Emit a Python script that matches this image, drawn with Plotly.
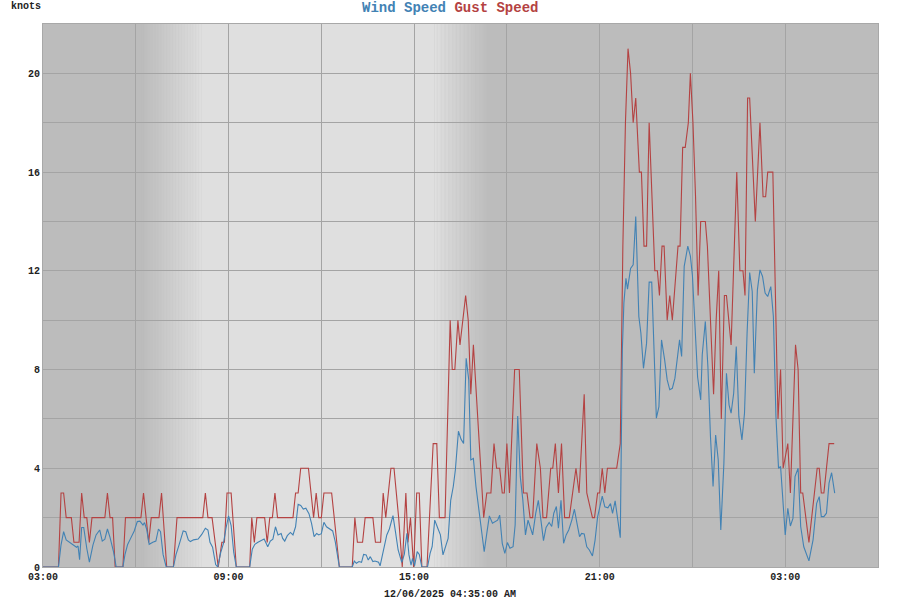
import datetime as dt
import plotly.graph_objects as go

# ---- data (minutes after 2025-12-05 03:00, knots) ----
gust_min = [0, 30, 35, 40, 45, 55, 60, 70, 75, 80, 85, 90, 95, 120, 125, 130, 135, 140, 155, 160,
            190, 195, 200, 205, 210, 225, 230, 240, 253, 260, 310, 315, 320, 328, 340, 347, 352, 357,
            365, 375, 401, 405, 410, 415, 430, 435, 440, 445, 450, 455, 485, 490, 495, 500, 515, 520,
            525, 530, 535, 540, 545, 560, 575, 600, 605, 610, 620, 625, 640, 645, 655, 660, 665, 670,
            675, 681, 690, 697, 704, 708, 713, 719, 725, 730, 735, 745, 754, 757, 764, 769, 780, 790,
            794, 799, 805, 809, 820, 825, 830, 835, 855, 861, 869, 875, 880, 886, 891, 895, 900, 905,
            915, 924, 932, 939, 945, 950, 958, 965, 970, 977, 985, 989, 994, 1000, 1006, 1012, 1021,
            1027, 1034, 1040, 1050, 1055, 1066, 1070, 1076, 1080, 1085, 1090, 1095, 1113, 1120, 1125,
            1130, 1135, 1140, 1145, 1150, 1157, 1161, 1166, 1171, 1176, 1181, 1187, 1192, 1196, 1201,
            1205, 1211, 1216, 1221, 1228, 1232, 1236, 1241, 1246, 1252, 1256, 1261, 1266, 1271, 1276,
            1285, 1289, 1295, 1301, 1306, 1311, 1316, 1322, 1326, 1335, 1346, 1352, 1358, 1362, 1367,
            1371, 1382, 1391, 1397, 1402, 1406, 1416, 1426, 1431, 1436, 1445, 1450, 1460, 1465, 1470,
            1474, 1486, 1502, 1506, 1510, 1515, 1525, 1535]
gust_val = [0, 0, 3, 3, 2, 2, 1, 1, 3, 2, 2, 1, 2, 2, 3, 2, 2, 0, 0, 2,
            2, 3, 2, 1, 2, 2, 3, 0, 0, 2, 2, 3, 2, 2, 0, 1, 1, 3,
            3, 0, 0, 2, 1, 2, 2, 1, 2, 2, 3, 2, 2, 3, 3, 4, 4, 3,
            2, 3, 2, 2, 3, 3, 0, 0, 2, 1, 1, 2, 2, 1, 1, 3, 2, 3,
            4, 4, 2, 0, 3, 1, 2, 0, 3, 3, 0, 0, 4, 5, 5, 2, 2, 10,
            8, 8, 10, 9, 11, 10, 7, 9, 2, 3, 3, 5, 4, 4, 3, 3, 5, 3,
            8, 8, 3, 3, 2, 2, 5, 4, 2, 2, 4, 4, 5, 3, 5, 2, 2,
            3, 4, 3, 7, 3, 2, 2, 3, 3, 4, 3, 4, 4, 5, 13,
            18, 21, 20, 18, 19, 16, 16, 13, 13, 18, 15, 12, 12, 11, 13,
            13, 10, 11, 10, 12, 13, 13, 17, 17, 18, 20, 18, 15, 11, 14,
            14, 13, 10, 7, 10, 12, 6, 11, 11, 9, 16, 12, 12, 11, 19,
            19, 14, 18, 15, 15, 16, 16, 6, 8, 4, 5, 3, 9, 8, 3,
            3, 1, 4, 4, 3, 3, 5, 5]

wind_min = [0, 30, 35, 40, 45, 52, 58, 65, 68, 71, 75, 79, 85, 90, 97, 103, 110, 115, 120, 125,
            130, 137, 142, 155, 159, 164, 170, 177, 183, 188, 194, 197, 201, 206, 213, 219, 224, 228,
            233, 239, 253, 258, 264, 272, 277, 282, 286, 292, 301, 308, 315, 320, 324, 329, 335, 339,
            345, 350, 355, 360, 365, 370, 375, 401, 406, 411, 417, 423, 429, 432, 436, 441, 446, 451,
            456, 462, 465, 469, 474, 480, 485, 490, 495, 500, 505, 510, 516, 521, 526, 531, 535, 540,
            545, 550, 557, 562, 567, 575, 600, 604, 608, 613, 618, 622, 627, 631, 635, 640, 644, 651,
            654, 662, 667, 672, 679, 684, 689, 696, 701, 706, 710, 714, 717, 721, 726, 730, 735, 746,
            751, 755, 760, 766, 771, 776, 781, 786, 791, 796, 800, 806, 811, 816, 821, 826, 830, 835,
            840, 846, 851, 856, 861, 866, 872, 877, 882, 886, 891, 896, 901, 906, 912, 916, 921, 926,
            931, 936, 941, 945, 950, 956, 961, 966, 971, 976, 982, 987, 991, 996, 1000, 1005, 1010,
            1015, 1020, 1026, 1031, 1036, 1041, 1045, 1050, 1055, 1060, 1066, 1071, 1076, 1085, 1090,
            1096, 1101, 1105, 1110, 1115, 1120, 1124, 1127, 1131, 1134, 1140, 1145, 1150, 1156, 1160,
            1165, 1171, 1176, 1181, 1185, 1190, 1195, 1200, 1206, 1211, 1216, 1221, 1226, 1231, 1235,
            1239, 1244, 1251, 1256, 1260, 1265, 1270, 1276, 1279, 1285, 1290, 1295, 1300, 1305, 1310,
            1315, 1321, 1326, 1331, 1335, 1340, 1345, 1350, 1356, 1361, 1366, 1371, 1376, 1380, 1386,
            1391, 1396, 1401, 1406, 1412, 1417, 1422, 1427, 1431, 1435, 1440, 1445, 1450, 1455, 1459,
            1465, 1470, 1476, 1486, 1494, 1501, 1506, 1510, 1515, 1520, 1525, 1530, 1536]
wind_val = [0, 0, 0.9, 1.43, 1.1, 1.0, 0.9, 0.8, 0.85, 0.3, 1.6, 1.6, 0.75, 0.2, 0.9, 1.3, 1.5, 1.05, 1.13, 1.54,
            1.2, 0.6, 0, 0, 0.5, 0.9, 1.16, 1.46, 1.84, 1.86, 1.7, 1.8, 1.54, 0.92, 1.0, 1.05, 1.54, 1.43,
            0.5, 0, 0, 0.5, 0.9, 1.46, 1.43, 1.1, 1.03, 1.1, 1.13, 1.32, 1.57, 1.5, 1.0, 0.8, 0.1, 0,
            0.6, 0.95, 1.57, 2.07, 1.68, 0.6, 0, 0, 0.72, 0.92, 1.0, 1.05, 1.13, 1.0, 0.82, 1.05, 1.13, 1.63,
            1.3, 1.36, 1.16, 1.05, 1.27, 1.4, 1.3, 1.63, 2.54, 2.49, 2.35, 2.38, 2.16, 1.77, 1.23, 1.36, 1.3, 1.35,
            1.81, 1.63, 1.54, 1.46, 1.03, 0, 0, 0.24, 0.15, 0.22, 0.19, 0.51, 0.49, 0.28, 0.42, 0.22, 0.24, 0.19,
            0.05, 0.9, 1.3, 1.54, 2.08, 1.4, 0.69, 0.19, 0.51, 1.36, 0.49, 0.08, 0.35, 0.05, 0.62, 0.51, 0, 0,
            0.55, 0.82, 1.9, 1.57, 1.3, 0.49, 0.82, 1.16, 2.7, 3.26, 3.93, 5.5, 5.18, 5.0, 8.46, 7.58, 4.34, 4.4,
            3.26, 2.18, 1.5, 0.62, 1.36, 2.07, 1.77, 1.84, 1.9, 2.1, 0.96, 0.55, 0.99, 0.76, 0.82, 1.7, 6.12, 3.66,
            2.7, 1.3, 1.9, 1.64, 1.3, 2.18, 2.7, 1.9, 1.07, 1.6, 1.8, 1.64, 2.18, 2.45, 1.57, 2.7, 0.96,
            1.3, 1.5, 1.9, 2.34, 1.77, 1.23, 1.36, 1.34, 0.82, 0.69, 0.45, 1.08, 2.03, 2.87, 2.44,
            2.4, 2.57, 2.17, 2.68, 1.9, 1.19, 8.8, 10.7, 11.7, 11.26, 12.1, 12.24, 14.2, 10.15, 9.47,
            8.05, 9.07, 11.54, 11.54, 9.27, 6.03, 6.5, 9.2, 8.4, 7.58, 7.18, 7.24, 7.65, 8.53, 9.2,
            8.53, 12.18, 13.0, 12.6, 11.8, 9.6, 7.7, 6.77, 8.6, 9.95, 8.1, 5.28, 3.26, 5.35, 4.34,
            1.5, 4.2, 7.85, 6.57, 6.23, 7.04, 8.93, 6.1, 5.15, 6.23, 9.47, 11.93, 11.16, 7.85, 11.23,
            12.04, 11.77, 11.1, 10.96, 11.36, 10.15, 6.1, 4.0, 4.07, 2.85, 1.3, 2.38, 1.66, 1.97, 3.66,
            4.0, 1.64, 0.82, 0.25, 1.1, 2.58, 2.85, 2.04, 2.04, 2.18, 3.4, 3.82, 2.99]

x_tick_hours = [0, 3, 6, 9, 12, 15, 18, 21, 24, 27]
x_tick_text = ["03:00", "", "09:00", "", "15:00", "", "21:00", "", "03:00", ""]
y_tick_vals = [0, 2, 4, 6, 8, 10, 12, 14, 16, 18, 20, 22]
y_tick_text = ["0", "", "4", "", "8", "", "12", "", "16", "", "20", ""]

BASE = dt.datetime(2025, 12, 5, 3, 0)
def t(m):
    return BASE + dt.timedelta(minutes=m)

BLUE = "#4282b4"
RED = "#b44242"
FONT = "Liberation Mono, Courier New, monospace"

fig = go.Figure()
fig.add_trace(go.Scatter(x=[t(m) for m in gust_min], y=gust_val, mode="lines",
                         line=dict(color=RED, width=1.1), name="Gust Speed"))
fig.add_trace(go.Scatter(x=[t(m) for m in wind_min], y=wind_val, mode="lines",
                         line=dict(color=BLUE, width=1.1), name="Wind Speed"))

# day / night background
NIGHT = (188, 188, 188)
DAY = (223, 223, 223)
def col(f):
    c = [round(NIGHT[i] + (DAY[i] - NIGHT[i]) * f) for i in range(3)]
    return "rgb(%d,%d,%d)" % tuple(c)

shapes = []
dawn0, dawn1 = 192, 310     # minutes after 03:00
dusk0, dusk1 = 760, 865
N = 40
for i in range(N):
    a = dawn0 + (dawn1 - dawn0) * i / N
    b = dawn0 + (dawn1 - dawn0) * (i + 1) / N + 0.5
    shapes.append(dict(type="rect", xref="x", yref="paper", x0=t(a), x1=t(b), y0=0, y1=1,
                       fillcolor=col((i + 0.5) / N), line=dict(width=0), layer="below"))
shapes.append(dict(type="rect", xref="x", yref="paper", x0=t(dawn1), x1=t(dusk0), y0=0, y1=1,
                   fillcolor=col(1), line=dict(width=0), layer="below"))
for i in range(N):
    a = dusk0 + (dusk1 - dusk0) * i / N
    b = dusk0 + (dusk1 - dusk0) * (i + 1) / N + 0.5
    shapes.append(dict(type="rect", xref="x", yref="paper", x0=t(a), x1=t(b), y0=0, y1=1,
                       fillcolor=col(1 - (i + 0.5) / N), line=dict(width=0), layer="below"))

fig.update_layout(
    width=900, height=600,
    margin=dict(l=43, r=22, t=24, b=33, autoexpand=False),
    paper_bgcolor="white",
    plot_bgcolor=col(0),
    showlegend=False,
    shapes=shapes,
    font=dict(family=FONT, size=10, color="#222"),
    annotations=[
        dict(text="<b><span style='color:%s'>Wind Speed</span> <span style='color:%s'>Gust Speed</span></b>" % (BLUE, RED),
             xref="paper", yref="paper", x=0.4874, y=1, yshift=16, xanchor="center", yanchor="middle",
             showarrow=False, font=dict(family=FONT, size=14)),
        dict(text="<b>knots</b>", xref="paper", yref="paper", x=0, xshift=-34, y=1, yshift=18,
             xanchor="left", yanchor="middle", showarrow=False, font=dict(family=FONT, size=10, color="#222")),
        dict(text="<b>12/06/2025 04:35:00 AM</b>", xref="paper", yref="paper", x=0.4874, y=0, yshift=-27,
             xanchor="center", yanchor="middle", showarrow=False, font=dict(family=FONT, size=10, color="#222")),
    ],
)
fig.update_xaxes(
    range=[t(0), t(27 * 60)], type="date", automargin=False,
    tickmode="array", tickvals=[t(h * 60) for h in x_tick_hours], ticktext=x_tick_text,
    showgrid=True, gridcolor="#a4a4a4", gridwidth=1,
    showline=True, mirror=True, linecolor="#a8a8a8", linewidth=1,
    ticks="", tickfont=dict(family=FONT, size=10, color="#222", weight="bold"),
    zeroline=False,
)
fig.update_yaxes(
    range=[0, 22], automargin=False,
    tickmode="array", tickvals=y_tick_vals, ticktext=y_tick_text,
    showgrid=True, gridcolor="#a4a4a4", gridwidth=1,
    showline=True, mirror=True, linecolor="#a8a8a8", linewidth=1,
    ticks="", tickfont=dict(family=FONT, size=10, color="#222", weight="bold"),
    zeroline=False,
)

fig.write_html("out.html", config={"displayModeBar": False},
               post_script="document.body.style.margin='0';document.body.style.overflow='hidden';")
